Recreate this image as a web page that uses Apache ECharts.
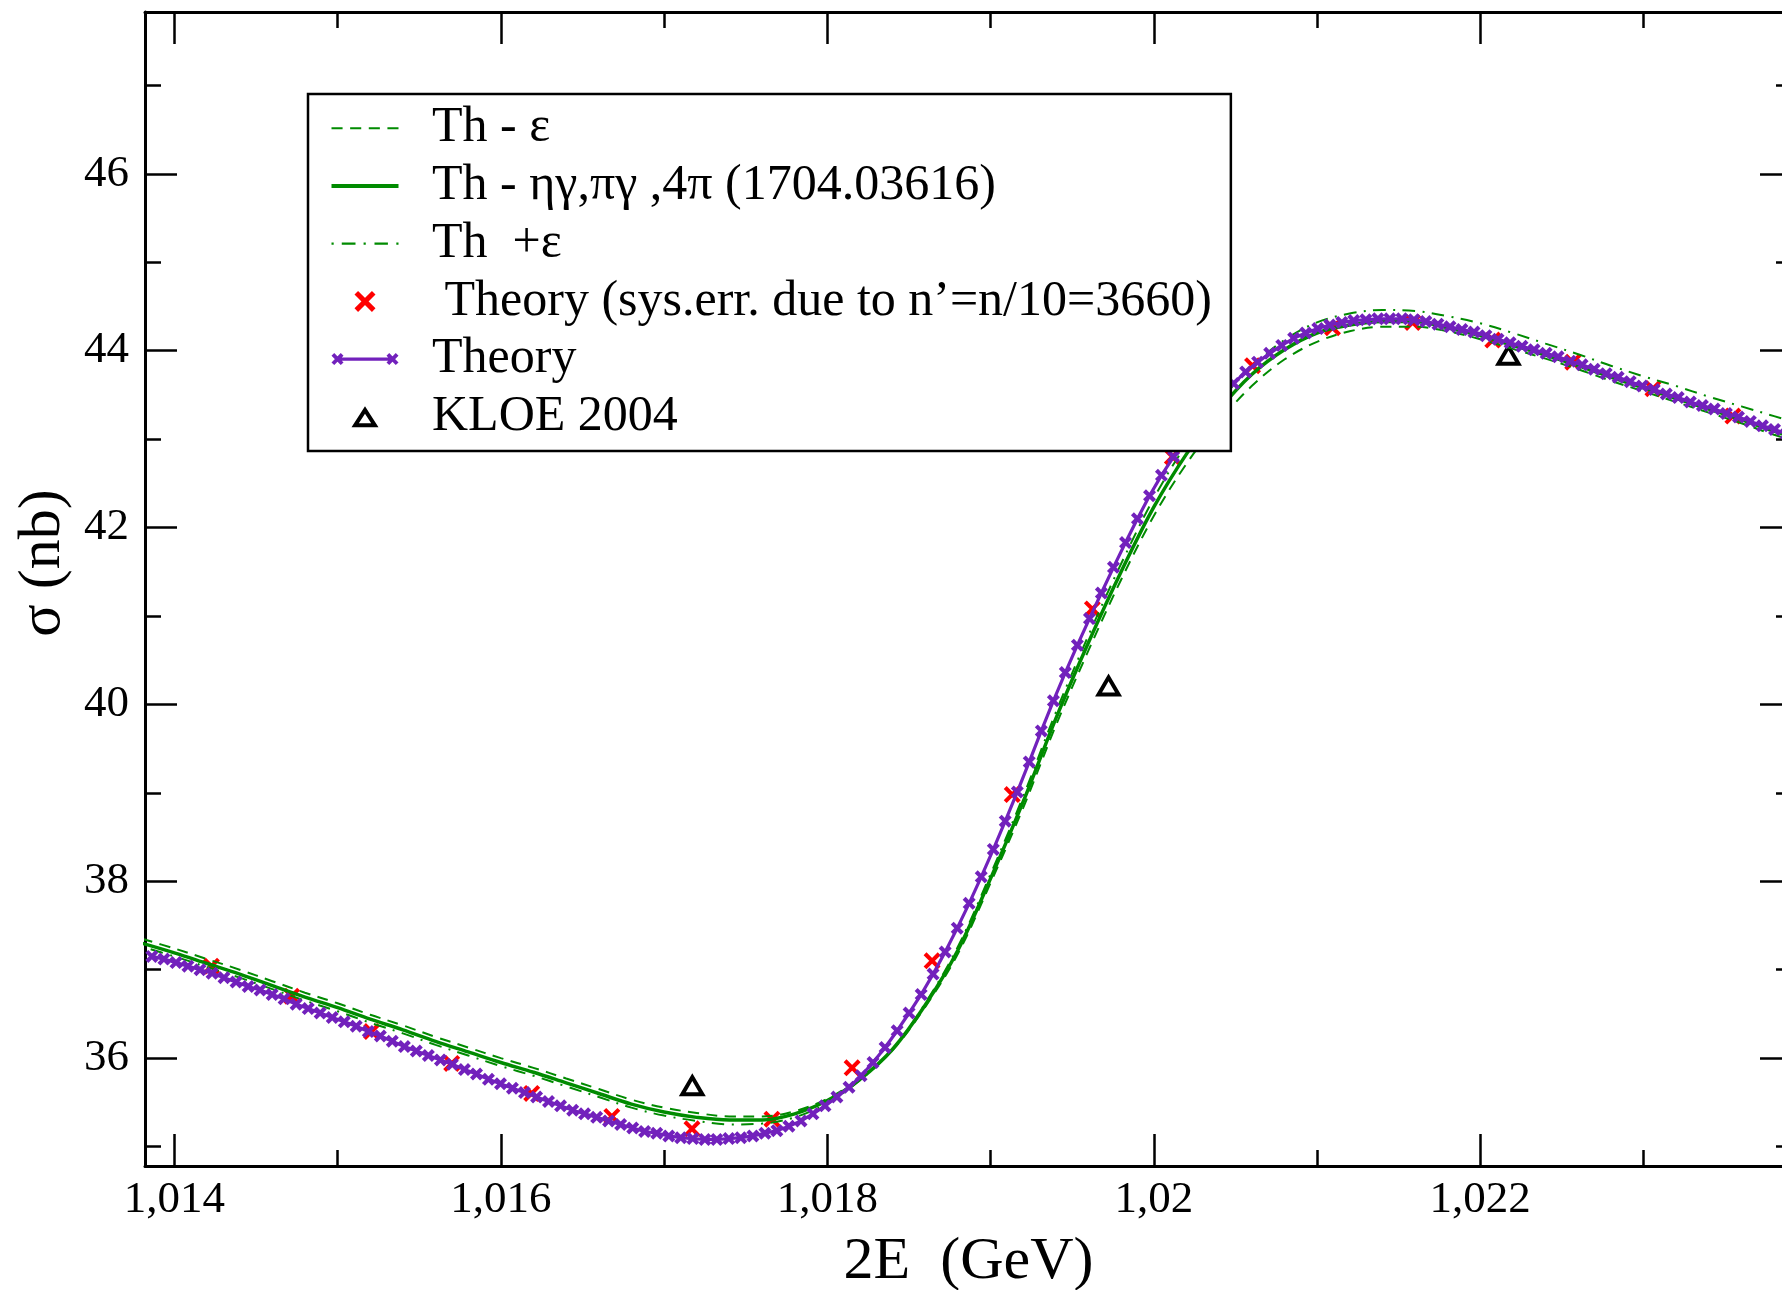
<!DOCTYPE html>
<html>
<head>
<meta charset="utf-8">
<title>σ(2E) near the φ resonance</title>
<script src="https://cdn.jsdelivr.net/npm/echarts@6/dist/echarts.min.js"></script>
<style>
  html, body { margin: 0; padding: 0; background: #fff; }
  #chart { width: 1782px; height: 1290px; }
</style>
</head>
<body>
<div id="chart"></div>
<script>
// ---- data -------------------------------------------------------------

// common energy grid of the three green theory bands (GeV)
const greenEnergy = [
  1.0138, 1.0140, 1.0142, 1.0144, 1.0146, 1.0148, 1.0150, 1.0152, 1.0154, 1.0156,
  1.0158, 1.0160, 1.0162, 1.0164, 1.0166, 1.0168, 1.0170, 1.0172, 1.0174, 1.0176,
  1.0178, 1.0180, 1.0182, 1.0184, 1.0186, 1.0188, 1.0190, 1.0192, 1.0194, 1.0196,
  1.0198, 1.0200, 1.0202, 1.0204, 1.0206, 1.0208, 1.0210, 1.0212, 1.0214, 1.0216,
  1.0218, 1.0220, 1.0222, 1.0224, 1.0226, 1.0228, 1.0230, 1.0232, 1.0234, 1.0236,
  1.0238, 1.0240
];

// Th - ε (nb)
const sigmaThMinusEps = [
  37.35, 37.24, 37.12, 37.00, 36.87, 36.74, 36.62, 36.49, 36.37, 36.24,
  36.12, 36.00, 35.89, 35.77, 35.65, 35.53, 35.44, 35.38, 35.34, 35.34,
  35.40, 35.54, 35.77, 36.09, 36.58, 37.18, 37.98, 38.83, 39.76, 40.61,
  41.41, 42.13, 42.72, 43.20, 43.60, 43.90, 44.10, 44.22, 44.27, 44.27,
  44.22, 44.13, 44.02, 43.91, 43.79, 43.66, 43.54, 43.42, 43.30, 43.18,
  43.05, 42.94
];

// Th - ηγ,πγ,4π (nb)
const sigmaTh = [
  37.30, 37.19, 37.07, 36.95, 36.82, 36.69, 36.57, 36.44, 36.32, 36.19,
  36.07, 35.95, 35.84, 35.72, 35.60, 35.48, 35.39, 35.33, 35.30, 35.30,
  35.37, 35.52, 35.76, 36.10, 36.60, 37.22, 38.03, 38.90, 39.84, 40.70,
  41.50, 42.23, 42.83, 43.33, 43.73, 44.01, 44.20, 44.29, 44.33, 44.33,
  44.26, 44.17, 44.06, 43.95, 43.83, 43.70, 43.58, 43.46, 43.34, 43.22,
  43.09, 42.98
];

// Th + ε (nb)
const sigmaThPlusEps = [
  37.26, 37.15, 37.03, 36.91, 36.78, 36.65, 36.53, 36.40, 36.28, 36.15,
  36.03, 35.91, 35.80, 35.68, 35.56, 35.44, 35.35, 35.29, 35.25, 35.26,
  35.33, 35.49, 35.75, 36.10, 36.62, 37.26, 38.08, 38.96, 39.91, 40.78,
  41.59, 42.33, 42.94, 43.42, 43.82, 44.12, 44.32, 44.42, 44.46, 44.45,
  44.39, 44.31, 44.20, 44.08, 43.96, 43.83, 43.71, 43.60, 43.48, 43.37,
  43.26, 43.15
];

// Theory: energies of the computed points (GeV)
const theoryEnergy = [
  1.013862, 1.013936, 1.014010, 1.014083, 1.014157, 1.014231, 1.014304, 1.014378, 1.014452, 1.014525,
  1.014599, 1.014672, 1.014746, 1.014820, 1.014893, 1.014967, 1.015041, 1.015114, 1.015188, 1.015262,
  1.015335, 1.015409, 1.015482, 1.015556, 1.015630, 1.015703, 1.015777, 1.015851, 1.015924, 1.015998,
  1.016071, 1.016145, 1.016219, 1.016292, 1.016366, 1.016440, 1.016513, 1.016587, 1.016660, 1.016734,
  1.016808, 1.016881, 1.016955, 1.017029, 1.017102, 1.017176, 1.017250, 1.017323, 1.017397, 1.017470,
  1.017544, 1.017618, 1.017691, 1.017765, 1.017839, 1.017912, 1.017986, 1.018059, 1.018133, 1.018207,
  1.018280, 1.018354, 1.018428, 1.018501, 1.018575, 1.018648, 1.018722, 1.018796, 1.018869, 1.018943,
  1.019017, 1.019090, 1.019164, 1.019237, 1.019311, 1.019385, 1.019458, 1.019532, 1.019606, 1.019679,
  1.019753, 1.019827, 1.019900, 1.019974, 1.020047, 1.020121, 1.020195, 1.020268, 1.020342, 1.020416,
  1.020489, 1.020563, 1.020636, 1.020710, 1.020784, 1.020857, 1.020931, 1.021005, 1.021078, 1.021152,
  1.021225, 1.021299, 1.021373, 1.021446, 1.021520, 1.021594, 1.021667, 1.021741, 1.021815, 1.021888,
  1.021962, 1.022035, 1.022109, 1.022183, 1.022256, 1.022330, 1.022404, 1.022477, 1.022551, 1.022624,
  1.022698, 1.022772, 1.022845, 1.022919, 1.022993, 1.023066, 1.023140, 1.023213, 1.023287, 1.023361,
  1.023434, 1.023508, 1.023582, 1.023655, 1.023729, 1.023803, 1.023876
];

// Theory: cross section (nb)
const theorySigma = [
  37.15, 37.12, 37.08, 37.04, 37.00, 36.96, 36.91, 36.86, 36.81, 36.77,
  36.72, 36.67, 36.61, 36.56, 36.51, 36.46, 36.41, 36.36, 36.30, 36.25,
  36.19, 36.13, 36.08, 36.03, 35.98, 35.93, 35.87, 35.82, 35.76, 35.71,
  35.66, 35.61, 35.56, 35.51, 35.46, 35.41, 35.37, 35.33, 35.29, 35.25,
  35.21, 35.17, 35.15, 35.12, 35.10, 35.09, 35.08, 35.08, 35.09, 35.10,
  35.12, 35.15, 35.18, 35.23, 35.29, 35.37, 35.46, 35.56, 35.67, 35.80,
  35.95, 36.12, 36.31, 36.51, 36.72, 36.95, 37.20, 37.47, 37.75, 38.05,
  38.36, 38.68, 39.01, 39.35, 39.70, 40.04, 40.36, 40.67, 40.97, 41.26,
  41.55, 41.83, 42.10, 42.36, 42.59, 42.80, 42.99, 43.17, 43.34, 43.49,
  43.63, 43.76, 43.87, 43.97, 44.06, 44.14, 44.20, 44.25, 44.29, 44.32,
  44.34, 44.35, 44.36, 44.36, 44.36, 44.35, 44.33, 44.30, 44.27, 44.24,
  44.21, 44.17, 44.13, 44.09, 44.05, 44.01, 43.97, 43.93, 43.88, 43.84,
  43.79, 43.74, 43.70, 43.65, 43.60, 43.56, 43.51, 43.47, 43.42, 43.38,
  43.34, 43.29, 43.25, 43.20, 43.15, 43.11, 43.06
];

// Theory with n' = n/10 = 3660 (systematic error estimate)
const sysEnergy = [
  1.014227, 1.014718, 1.015208, 1.015699, 1.016189, 1.016680, 1.017171, 1.017661, 1.018152, 1.018642,
  1.019133, 1.019624, 1.020114, 1.020605, 1.021095, 1.021586, 1.022077, 1.022567, 1.023058, 1.023548
];
const sysSigma = [
  37.04, 36.70, 36.30, 35.94, 35.60, 35.34, 35.20, 35.31, 35.89, 37.10,
  38.98, 41.08, 42.80, 43.83, 44.26, 44.32, 44.12, 43.87, 43.57, 43.26
];

// KLOE 2004 measurements
const kloeEnergy = [1.017173, 1.019723, 1.022173];
const kloeSigma = [35.70, 40.22, 43.96];

// axis ticks and their labels
const xMajorTicks = [1.014, 1.016, 1.018, 1.020, 1.022];
const xTickLabels = ['1,014', '1,016', '1,018', '1,02', '1,022'];
const xMinorTicks = [1.015, 1.017, 1.019, 1.021, 1.023];
const yMajorTicks = [36, 38, 40, 42, 44, 46];
const yTickLabels = ['36', '38', '40', '42', '44', '46'];
const yMinorTicks = [35, 37, 39, 41, 43, 45, 47];

const seriesNames = [
  'Th - ε',
  'Th - ηγ,πγ ,4π (1704.03616)',
  'Th  +ε',
  ' Theory (sys.err. due to n’=n/10=3660)',
  'Theory',
  'KLOE 2004'
];

// ---- styling ----------------------------------------------------------

const FONT = '"Liberation Serif", "Times New Roman", "DejaVu Serif", serif';
const GREEN = 'rgb(0,139,0)';
const PURPLE = 'rgb(114,33,188)';
const RED = 'rgb(255,0,0)';
const BLACK = '#000';

const X_MIN = 1.01382, X_MAX = 1.02391;
const Y_MIN = 34.78, Y_MAX = 47.83;

// filled marker shapes
const X_MARK = 'path://M3.39 0L20 16.61L16.61 20L0 3.39Z M16.61 0L20 3.39L3.39 20L0 16.61Z';
const X_MARK_BOLD = 'path://M4.53 0L20 15.47L15.47 20L0 4.53Z M15.47 0L20 4.53L4.53 20L0 15.47Z';
const OPEN_TRIANGLE = 'path://M0 23L13.5 0L27 23Z M6.99 19L20.01 19L13.5 7.9Z';

// legend keys
const KEY_DASH = 'path://M0 0H11V2H0Z M18.5 0H29.5V2H18.5Z M37 0H48V2H37Z M55.5 0H66.5V2H55.5Z';
const KEY_SOLID = 'path://M0 0H66.5V4H0Z';
const KEY_DASHDOT = 'path://M0 0H2V2H0Z M9.4 0H22V2H9.4Z M29.4 0H31.4V2H29.4Z M39.4 0H51.7V2H39.4Z M59.4 0H61.4V2H59.4Z';
const KEY_THEORY = 'path://M6 4.35H61V7.65H6Z M2.72 0L12 9.28L9.28 12L0 2.72Z M9.28 0L12 2.72L2.72 12L0 9.28Z M57.72 0L67 9.28L64.28 12L55 2.72Z M64.28 0L67 2.72L57.72 12L55 9.28Z';
const KEY_TRIANGLE = 'path://M0 21L13.5 0L27 21Z M7.33 17L19.67 17L13.5 7.4Z';

function pairs(xs, ys) {
  return xs.map((x, i) => [x, ys[i]]);
}

const tickLine = { color: BLACK, width: 2.5 };
const frameLine = { show: true, onZero: false, lineStyle: { color: BLACK, width: 3 } };

function xAxisDef(position, ticks, length, withFrame, withLabels) {
  const axis = {
    type: 'value', min: X_MIN, max: X_MAX, position: position,
    splitLine: { show: false },
    axisLine: withFrame ? frameLine : { show: false, onZero: false },
    axisTick: { show: true, inside: true, length: length, lineStyle: tickLine, customValues: ticks },
    axisLabel: { show: false }
  };
  if (withLabels) {
    axis.axisLabel = {
      show: true, customValues: ticks, margin: 12,
      fontFamily: FONT, fontSize: 45, color: BLACK,
      formatter: v => xTickLabels[xMajorTicks.findIndex(t => Math.abs(t - v) < 1e-7)]
    };
    axis.name = '2E  (GeV)';
    axis.nameLocation = 'middle';
    axis.nameGap = 66;
    axis.nameTextStyle = { fontFamily: FONT, fontSize: 60, color: BLACK };
  }
  return axis;
}

function yAxisDef(position, ticks, length, withFrame, withLabels) {
  const axis = {
    type: 'value', min: Y_MIN, max: Y_MAX, position: position,
    splitLine: { show: false },
    axisLine: withFrame ? frameLine : { show: false, onZero: false },
    axisTick: { show: true, inside: true, length: length, lineStyle: tickLine, customValues: ticks },
    axisLabel: { show: false }
  };
  if (withLabels) {
    axis.axisLabel = {
      show: true, customValues: ticks, margin: 16,
      fontFamily: FONT, fontSize: 45, color: BLACK,
      formatter: v => yTickLabels[yMajorTicks.findIndex(t => Math.abs(t - v) < 1e-7)]
    };
    axis.name = 'σ (nb)';
    axis.nameLocation = 'middle';
    axis.nameRotate = 90;
    axis.nameGap = 72;
    axis.nameTextStyle = { fontFamily: FONT, fontSize: 60, color: BLACK, padding: [0, 0, 0, 52] };
  }
  return axis;
}

const option = {
  animation: false,
  backgroundColor: '#fff',
  grid: {
    left: 145, top: 12, width: 1647, height: 1154,
    containLabel: false, outerBoundsMode: 'none'
  },
  xAxis: [
    xAxisDef('bottom', xMajorTicks, 32, true, true),
    xAxisDef('bottom', xMinorTicks, 16, false, false),
    xAxisDef('top', xMajorTicks, 32, true, false),
    xAxisDef('top', xMinorTicks, 16, false, false)
  ],
  yAxis: [
    yAxisDef('left', yMajorTicks, 32, true, true),
    yAxisDef('left', yMinorTicks, 16, false, false),
    yAxisDef('right', yMajorTicks, 32, true, false),
    yAxisDef('right', yMinorTicks, 16, false, false)
  ],
  legend: {
    orient: 'vertical',
    left: 308, top: 94,
    padding: [9.3, 19, 9.3, 23.5],
    itemWidth: 67, itemHeight: 21, itemGap: 7.7,
    symbolKeepAspect: true,
    backgroundColor: '#fff', borderColor: BLACK, borderWidth: 2.5, borderRadius: 0,
    selectedMode: false,
    itemStyle: { borderWidth: 0 },
    textStyle: { fontFamily: FONT, fontSize: 50, lineHeight: 50, color: BLACK, padding: [0, 0, 0, 28.5] },
    data: [
      { name: seriesNames[0], icon: KEY_DASH },
      { name: seriesNames[1], icon: KEY_SOLID },
      { name: seriesNames[2], icon: KEY_DASHDOT },
      { name: seriesNames[3], icon: X_MARK },
      { name: seriesNames[4], icon: KEY_THEORY },
      { name: seriesNames[5], icon: KEY_TRIANGLE }
    ]
  },
  series: [
    {
      name: seriesNames[0], type: 'line', data: pairs(greenEnergy, sigmaThMinusEps),
      symbol: 'none', smooth: 0.35, silent: true,
      itemStyle: { color: GREEN },
      lineStyle: { color: GREEN, width: 2, type: [11, 7.5] }
    },
    {
      name: seriesNames[1], type: 'line', data: pairs(greenEnergy, sigmaTh),
      symbol: 'none', smooth: 0.35, silent: true,
      itemStyle: { color: GREEN },
      lineStyle: { color: GREEN, width: 3.5 }
    },
    {
      name: seriesNames[2], type: 'line', data: pairs(greenEnergy, sigmaThPlusEps),
      symbol: 'none', smooth: 0.35, silent: true,
      itemStyle: { color: GREEN },
      lineStyle: { color: GREEN, width: 2, type: [2, 7.4, 12.6, 7.4] }
    },
    {
      name: seriesNames[4], type: 'line', data: pairs(theoryEnergy, theorySigma),
      symbol: X_MARK_BOLD, symbolSize: 13, showSymbol: true, showAllSymbol: true, silent: true,
      itemStyle: { color: PURPLE, opacity: 1 },
      lineStyle: { color: PURPLE, width: 3.2 }
    },
    {
      name: seriesNames[3], type: 'scatter', data: pairs(sysEnergy, sysSigma),
      symbol: X_MARK, symbolSize: 17, silent: true,
      itemStyle: { color: RED, opacity: 1 }
    },
    {
      name: seriesNames[5], type: 'scatter', data: pairs(kloeEnergy, kloeSigma),
      symbol: OPEN_TRIANGLE, symbolSize: [27, 23], silent: true,
      itemStyle: { color: BLACK, opacity: 1 }
    }
  ]
};

const chart = echarts.init(document.getElementById('chart'), null, { renderer: 'canvas' });
chart.setOption(option);
</script>
</body>
</html>
